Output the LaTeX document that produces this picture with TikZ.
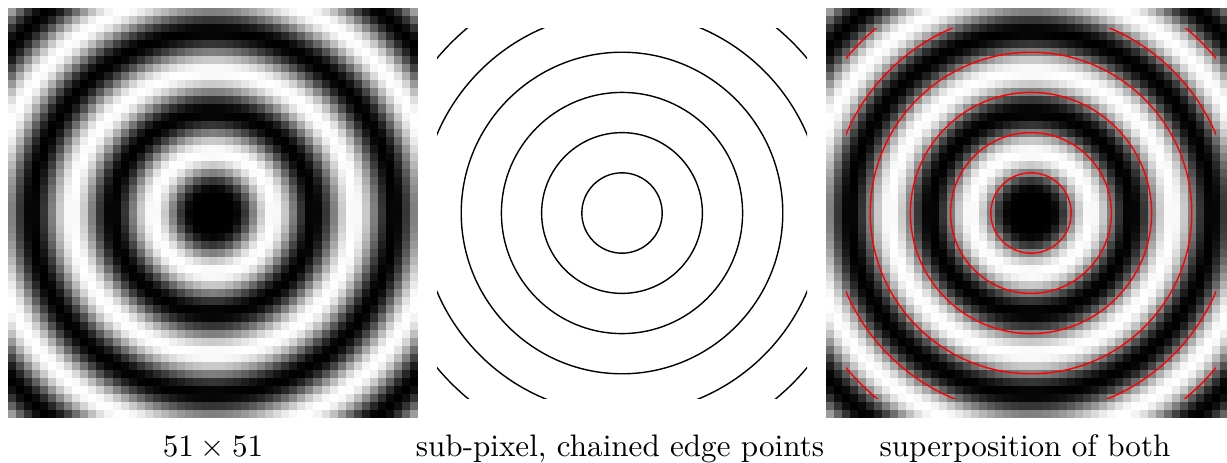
\documentclass[tikz,border=0pt]{standalone}
\usepackage{tikz}
\usetikzlibrary{positioning}
\newcommand{\cellsz}{8.039}
\tikzset{
  edgecurve/.style={line width=0.45pt,black},
  edgeover/.style={line width=0.45pt,red},
  caption/.style={anchor=base,inner sep=0pt}
}

\begin{document}
\begin{tikzpicture}[x=0.3215pt,y=-0.3215pt]
\useasboundingbox (0,0) rectangle (1227,462);
\coordinate (ctrA) at (213,213);
\coordinate (ctrB) at (622,213);
\coordinate (ctrC) at (1031,213);
% the 51x51 test image, drawn in the left and right panels
\begin{scope}
\clip (0,0) rectangle (1227,462);
\foreach \i in {0,...,50}{
  \foreach \j in {0,...,50}{
    \pgfmathsetmacro{\rad}{max(sqrt((\i-25)^2+(\j-25)^2),2.5)}
    \pgfmathsetmacro{\lvl}{max(0,min(100,50-50*sin(36*\rad)))}
    \fill[white!\lvl!black] (8+\i*\cellsz,8+\j*\cellsz) rectangle ++(\cellsz+0.4,\cellsz+0.4);
    \fill[white!\lvl!black] (826+\i*\cellsz,8+\j*\cellsz) rectangle ++(\cellsz+0.4,\cellsz+0.4);
  }
}
\end{scope}
% chained edge points
\begin{scope}[shift={(ctrB)}]
\clip (-185,-185) rectangle (185,185);
\foreach \k in {1,...,6}
  \draw[edgecurve] (ctrB) circle[radius=5*\k*\cellsz];
\end{scope}
\begin{scope}[shift={(ctrC)}]
\clip (-185,-185) rectangle (185,185);
\foreach \k in {1,...,6}
  \draw[edgeover] (ctrC) circle[radius=5*\k*\cellsz];
\end{scope}
\node[caption] (capA) at (213,456) {$51\times51$};
\node[caption] (capB) at (620,456) {sub-pixel, chained edge points};
\node[caption] (capC) at (1025,456) {superposition of both};
\end{tikzpicture}
\end{document}
